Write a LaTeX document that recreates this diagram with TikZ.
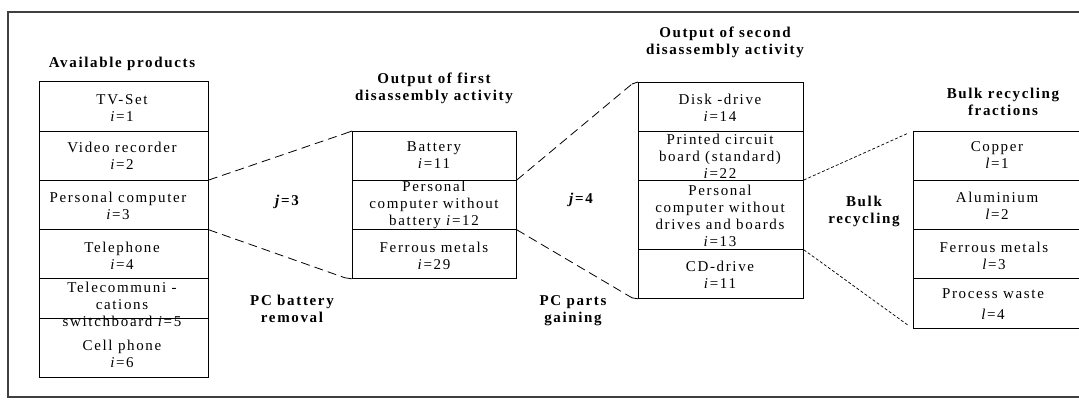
\documentclass[tikz,border=0pt]{standalone}
\usepackage{fontspec}
\setmainfont{Liberation Serif}[LetterSpace=11]
\begin{document}
\begin{tikzpicture}[x=1pt,y=-1pt,
  cell/.style={draw, line width=0.8pt, inner sep=0pt, anchor=north west},
  txt/.style={align=center, inner sep=0pt, font=\fontsize{15}{17}\selectfont},
  ttl/.style={txt, font=\fontsize{15}{17}\selectfont\bfseries},
  link/.style={line width=0.8pt, dash pattern=on 9pt off 5pt},
  stub/.style={line width=0.8pt},
  bulk/.style={line width=0.7pt, dash pattern=on 3pt off 2pt, shorten >=5pt}]
\useasboundingbox (0,0) rectangle (1079,399);
% outer frame
\draw[line width=1.3pt, black!75] (8,12) rectangle (1095,397);

% available products
\node[cell, minimum width=169pt, minimum height=50pt] (a1) at (39,81) {};
\node[cell, minimum width=169pt, minimum height=49pt] (a2) at (39,131) {};
\node[cell, minimum width=169pt, minimum height=49pt] (a3) at (39,180) {};
\node[cell, minimum width=169pt, minimum height=49pt] (a4) at (39,229) {};
\node[cell, minimum width=169pt, minimum height=40pt] (a5) at (39,278) {};
\node[cell, minimum width=169pt, minimum height=59pt] (a6) at (39,318) {};
\node[txt] (ta1) at (122,108) {TV-Set\\\textit{i}=1};
\node[txt] (ta2) at (122,155.5) {Video recorder\\\textit{i}=2};
\node[txt] (ta3) at (118,205.5) {Personal computer\\\textit{i}=3};
\node[txt] (ta4) at (122,255.5) {Telephone\\\textit{i}=4};
\node[txt] (ta5) at (122,304) {Telecommuni -\\cations\\switchboard \textit{i}=5};
\node[txt] (ta6) at (122,353.5) {Cell phone\\\textit{i}=6};
\node[ttl] (ha) at (122,64) {Available products};

% output of first disassembly activity
\node[cell, minimum width=164pt, minimum height=49pt] (b1) at (352,131) {};
\node[cell, minimum width=164pt, minimum height=49pt] (b2) at (352,180) {};
\node[cell, minimum width=164pt, minimum height=49pt] (b3) at (352,229) {};
\node[txt] (tb1) at (434,155.5) {Battery\\\textit{i}=11};
\node[txt] (tb2) at (434,205) {Personal\\computer without\\battery \textit{i}=12};
\node[txt] (tb3) at (434,255.5) {Ferrous metals\\\textit{i}=29};
\node[ttl] (hb) at (434,88.5) {Output of first\\disassembly activity};

% output of second disassembly activity
\node[cell, minimum width=165pt, minimum height=49pt] (c1) at (638,82) {};
\node[cell, minimum width=165pt, minimum height=49pt] (c2) at (638,131) {};
\node[cell, minimum width=165pt, minimum height=69pt] (c3) at (638,180) {};
\node[cell, minimum width=165pt, minimum height=49pt] (c4) at (638,249) {};
\node[txt] (tc1) at (720,107.5) {Disk -drive\\\textit{i}=14};
\node[txt] (tc2) at (720,156) {Printed circuit\\board (standard)\\\textit{i}=22};
\node[txt] (tc3) at (720,215.5) {Personal\\computer without\\drives and boards\\\textit{i}=13};
\node[txt] (tc4) at (720,274.5) {CD-drive\\\textit{i}=11};
\node[ttl] (hc) at (725,42.5) {Output of second\\disassembly activity};

% bulk recycling fractions
\node[cell, minimum width=168pt, minimum height=49pt] (d1) at (913,131) {};
\node[cell, minimum width=168pt, minimum height=49pt] (d2) at (913,180) {};
\node[cell, minimum width=168pt, minimum height=49pt] (d3) at (913,229) {};
\node[cell, minimum width=168pt, minimum height=50pt] (d4) at (913,278) {};
\node[txt] (td1) at (997,155.5) {Copper\\\textit{l}=1};
\node[txt] (td2) at (997,205.5) {Aluminium\\\textit{l}=2};
\node[txt] (td3) at (994,255.5) {Ferrous metals\\\textit{l}=3};
\node[txt] (td4) at (993,304.5) {Process waste\\[4pt]\textit{l}=4};
\node[ttl] (hd) at (1003,102) {Bulk recycling\\fractions};

% activity labels
\node[ttl] (j3) at (287,202) {\textit{j}=3};
\node[ttl] (j4) at (581,200) {\textit{j}=4};
\node[ttl] (pb) at (292,308.5) {PC battery\\removal};
\node[ttl] (pp) at (573,310.5) {PC parts\\gaining};
\node[ttl] (br) at (864,211.5) {Bulk\\recycling};

% short solid ends of the dashed fans
\coordinate (s1) at ([shift={(-7,2.5)}]b1.north west);
\coordinate (s2) at ([shift={(-7,-1)}]b3.south west);
\coordinate (s3) at ([shift={(-6,2)}]c1.north west);
\coordinate (s4) at ([shift={(-6,-1)}]c4.south west);

% connectors
\draw[link] (a3.north east) -- (s1);
\draw[stub] (s1) -- (b1.north west);
\draw[link] (a3.south east) -- (s2);
\draw[stub] (s2) -- (b3.south west);
\draw[link] (b2.north east) -- (s3);
\draw[stub] (s3) -- (c1.north west);
\draw[link] (b2.south east) -- (s4);
\draw[stub] (s4) -- (c4.south west);
\draw[bulk] (c3.north east) -- (d1.north west);
\draw[bulk] (c3.south east) -- (d4.south west);
\end{tikzpicture}
\end{document}
